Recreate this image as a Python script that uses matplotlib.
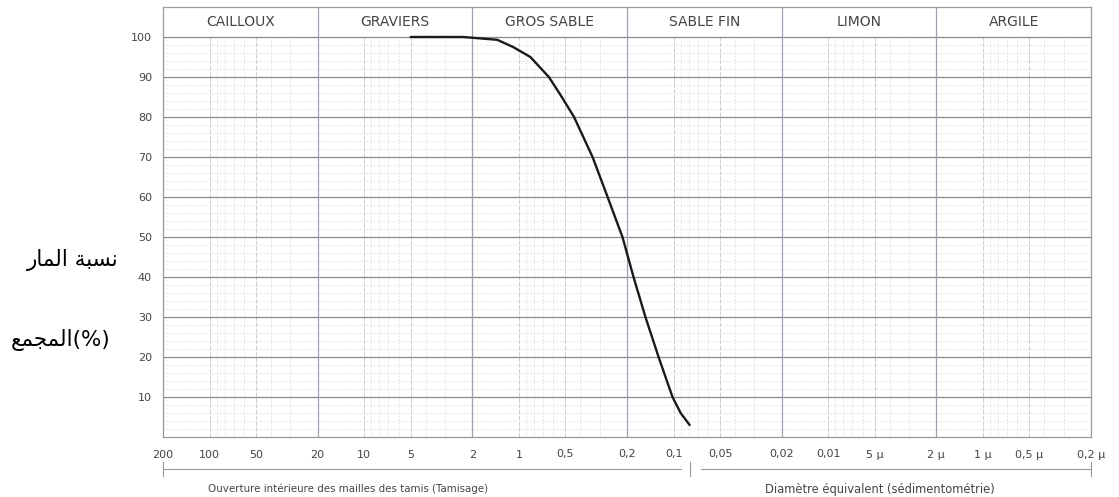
import numpy as np
import matplotlib
matplotlib.use("Agg")
import matplotlib.pyplot as plt
import matplotlib.transforms as mtransforms

# courbe granulometrique (diametre en mm, % passant cumule)
diam_mm = [5.0, 2.29, 1.38, 1.09, 0.843, 0.64, 0.538, 0.44, 0.334,
           0.267, 0.214, 0.1815, 0.152, 0.125, 0.1016, 0.090, 0.0787]
passing_pct = [100, 100, 99.3, 97.5, 95, 90, 85.5, 80, 70,
               60, 50, 40, 30, 20, 10, 6, 3]

tick_vals = [200, 100, 50, 20, 10, 5, 2, 1, 0.5, 0.2, 0.1, 0.05, 0.02, 0.01,
             0.005, 0.002, 0.001, 0.0005, 0.0002]
tick_labels = ["200", "100", "50", "20", "10", "5", "2", "1", "0,5", "0,2",
               "0,1", "0,05", "0,02", "0,01", "5 µ", "2 µ", "1 µ", "0,5 µ", "0,2 µ"]
y_ticks = [10, 20, 30, 40, 50, 60, 70, 80, 90, 100]

zone_names = ["CAILLOUX", "GRAVIERS", "GROS SABLE", "SABLE FIN", "LIMON", "ARGILE"]
zone_bounds = [200, 20, 2, 0.2, 0.02, 0.002, 0.0002]

sieve_limit = 0.0787  # separation tamisage / sedimentometrie
caption_left = "Ouverture intérieure des mailles des tamis (Tamisage)"
caption_right = "Diamètre équivalent (sédimentométrie)"

# texte arabe deja mis en forme (formes de presentation, ordre visuel)
ar_line1 = "\uFEAD\uFE8E\uFEE4\uFEDF\uFE8D \uFE94\uFE92\uFEB4\uFEE7"
ar_line2 = "\uFECA\uFEE4\uFEA0\uFEE4\uFEDF\uFE8D(%)"

txt_col = "#444444"
top_y = 107.5

fig = plt.figure(figsize=(11.19, 4.97), dpi=100, facecolor="white")
ax = fig.add_axes([163 / 1119, 1 - 437 / 497, (1091 - 163) / 1119, (437 - 7) / 497])
ax.set_xscale("log")
ax.set_xlim(200, 0.0002)
ax.set_ylim(0, top_y)

# grille fine
minor_x = [m * 10.0 ** e for e in range(-4, 3) for m in range(1, 10)]
minor_x = [v for v in minor_x if 0.0002 < v < 200]
ax.vlines(minor_x, 0, 100, colors="#dcdcdc", linewidth=0.6, linestyles=(0, (2, 2)))
ax.hlines(np.arange(2, 100, 2), 200, 0.0002, colors="#dcdcdc", linewidth=0.6,
          linestyles=(0, (2, 2)))
ax.vlines([v for v in tick_vals if v not in zone_bounds], 0, 100,
          colors="#cccccc", linewidth=0.7, linestyles=(0, (4, 2)))
# grille principale
ax.hlines(y_ticks, 200, 0.0002, colors="#8a8a8a", linewidth=0.9)
ax.vlines(zone_bounds[1:-1], 0, top_y, colors="#9aa4b0", linewidth=0.9)

# bandeau des classes
for i, name in enumerate(zone_names):
    xc = np.sqrt(zone_bounds[i] * zone_bounds[i + 1])
    ax.text(xc, 103.75, name, ha="center", va="center", fontsize=10, color=txt_col)

ax.plot(diam_mm, passing_pct, color="#1a1a1a", linewidth=1.7,
        solid_joinstyle="round", solid_capstyle="round")

ax.set_xticks(tick_vals)
ax.set_xticklabels(tick_labels)
ax.xaxis.set_minor_locator(matplotlib.ticker.NullLocator())
ax.set_yticks(y_ticks)
ax.tick_params(length=0, labelsize=8, colors=txt_col, pad=9)
ax.tick_params(axis="y", pad=8)
for s in ax.spines.values():
    s.set_color("#9a9a9a")
    s.set_linewidth(0.9)

# accolades sous l'axe
trans = mtransforms.blended_transform_factory(ax.transData, ax.transAxes)
by = -0.0744
ax.plot([200, 0.090], [by, by], color="#999999", lw=0.8, transform=trans, clip_on=False)
ax.plot([0.0668, 0.0002], [by, by], color="#999999", lw=0.8, transform=trans, clip_on=False)
for xv in [200, sieve_limit, 0.0002]:
    ax.plot([xv, xv], [by - 0.017, by + 0.017], color="#999999", lw=0.8,
            transform=trans, clip_on=False)
ax.text(0.199, -0.121, caption_left, transform=ax.transAxes,
        ha="center", va="center", fontsize=7.4, color=txt_col)
ax.text(0.772, -0.121, caption_right, transform=ax.transAxes,
        ha="center", va="center", fontsize=8.3, color=txt_col)

fig.text(73 / 1119, 1 - 260 / 497, ar_line1, ha="center", va="center",
         fontsize=15.5, family=["DejaVu Sans"], color="black")
fig.text(61 / 1119, 1 - 340 / 497, ar_line2, ha="center", va="center",
         fontsize=15.5, family=["DejaVu Sans"], color="black")

fig.savefig("out.png", dpi=100, facecolor="white")
